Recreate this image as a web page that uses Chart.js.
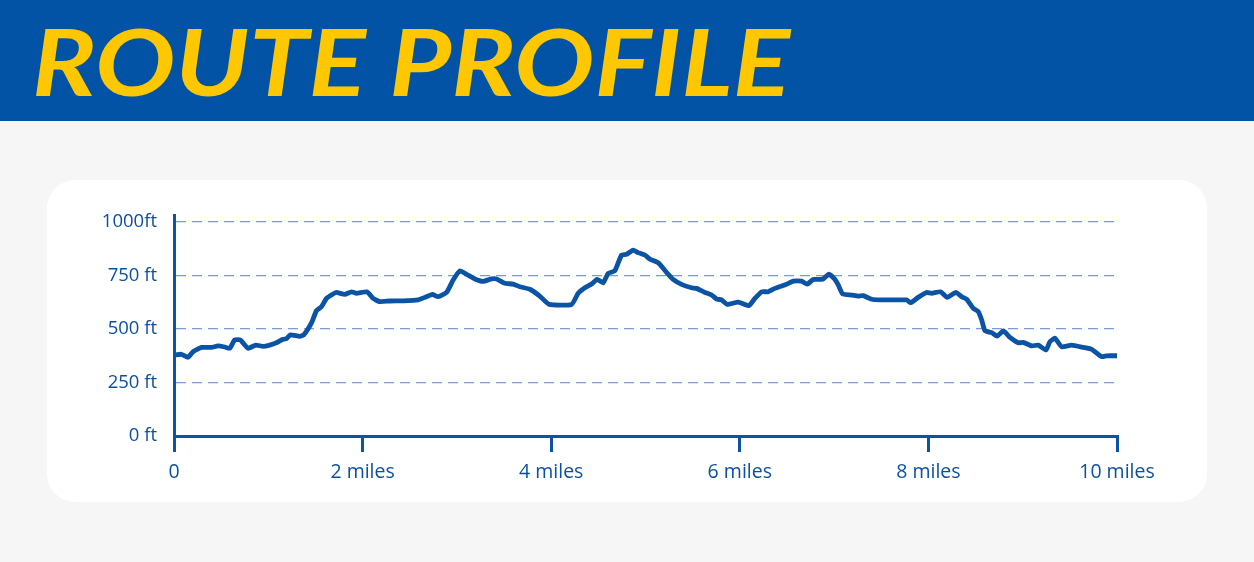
<!DOCTYPE html>
<html>
<head>
<meta charset="utf-8">
<script src="https://cdn.jsdelivr.net/npm/chart.js@4.4.1/dist/chart.umd.min.js"></script>
<style>
  html, body { margin: 0; padding: 0; }
  body { width: 1254px; height: 562px; background: #F6F6F6; position: relative; overflow: hidden; }
  #header { position: absolute; left: 0; top: 0; width: 1254px; height: 121px; background: #0253A6; }
  #header svg { position: absolute; left: 0; top: 0; }
  #card { position: absolute; left: 47px; top: 180px; width: 1160px; height: 322px; background: #FFFFFF; border-radius: 28px; }
  #chart { position: absolute; left: 0; top: 0; }
</style>
</head>
<body>
<div id="header">
  <svg width="1254" height="121" xmlns="http://www.w3.org/2000/svg">
    <text x="32" y="96" textLength="758" lengthAdjust="spacingAndGlyphs"
      font-family="Lato, 'Open Sans', sans-serif" font-weight="700" font-style="italic"
      font-size="92" fill="#FFC700">ROUTE PROFILE</text>
  </svg>
</div>
<div id="card"></div>
<canvas id="chart" width="1254" height="562"></canvas>
<script>
const miles = [
  0, 0.078, 0.149, 0.202, 0.291, 0.397, 0.467, 0.538, 0.591, 0.644, 0.704, 0.785, 0.867, 0.944, 1.015, 1.086, 1.156, 1.192, 1.235, 1.333, 1.376, 1.458, 1.511, 1.564, 1.617, 1.687,
  1.723, 1.811, 1.882, 1.935, 2.047, 2.111, 2.182, 2.288, 2.429, 2.588, 2.659, 2.741, 2.800, 2.890, 2.960, 3.031, 3.102, 3.190, 3.278, 3.367,
  3.420, 3.508, 3.596, 3.667, 3.773, 3.879, 3.978, 4.216, 4.286, 4.357, 4.428, 4.487, 4.551, 4.604, 4.675, 4.746, 4.799, 4.869, 4.922, 4.993, 5.046,
  5.134, 5.223, 5.293, 5.382, 5.488, 5.541, 5.630, 5.701, 5.754, 5.807, 5.866, 5.983, 6.096, 6.160, 6.231, 6.301, 6.372, 6.496, 6.566, 6.655, 6.715, 6.778,
  6.814, 6.884, 6.945, 7.009, 7.044, 7.090, 7.186, 7.256, 7.309, 7.398, 7.486, 7.769, 7.812, 7.892, 7.981, 8.034, 8.130, 8.200, 8.292, 8.353, 8.406,
  8.476, 8.529, 8.565, 8.600, 8.671, 8.730, 8.794, 8.865, 8.953, 9.006, 9.095, 9.165, 9.247, 9.289, 9.342, 9.413, 9.519, 9.643, 9.732, 9.838, 9.891, 10.0
];
const elevationFt = [
  378, 382, 368, 394, 414, 414, 421, 416, 410, 449, 449, 410, 425, 419, 425, 436, 452, 455, 473, 466, 473, 529, 586, 604, 643, 664,
  671, 662, 674, 667, 674, 643, 628, 631, 632, 636, 648, 662, 651, 671, 729, 772, 756, 734, 723, 734,
  734, 714, 710, 698, 686, 654, 615, 615, 667, 693, 710, 732, 716, 760, 772, 846, 849, 869, 857, 846, 827,
  810, 765, 732, 709, 693, 690, 671, 659, 640, 636, 615, 626, 609, 643, 674, 674, 690, 709, 724, 724, 710, 732,
  732, 734, 757, 732, 706, 664, 659, 654, 656, 639, 636, 636, 623, 648, 671, 667, 674, 648, 671, 651, 639,
  597, 581, 542, 492, 483, 467, 491, 461, 436, 438, 421, 425, 402, 441, 457, 417, 425, 414, 405, 371, 375, 375
];
const xTickValues = [0, 2, 4, 6, 8, 10];
const yTickValues = [0, 250, 500, 750, 1000];

const BLUE = '#0B53A4';
const LABEL = '#0B4F9F';
const GRID = 'rgba(35, 95, 190, 0.62)';

new Chart(document.getElementById('chart'), {
  type: 'line',
  data: {
    datasets: [{
      data: miles.map((m, i) => ({ x: m, y: elevationFt[i] })),
      borderColor: BLUE,
      borderWidth: 4.8,
      pointRadius: 0,
      tension: 0.15,
      borderJoinStyle: 'round',
      borderCapStyle: 'round',
      fill: false
    }]
  },
  options: {
    responsive: false,
    animation: false,
    devicePixelRatio: 1,
    layout: { padding: { left: 0, top: 215, right: 137, bottom: 0 } },
    plugins: { legend: { display: false }, tooltip: { enabled: false } },
    scales: {
      x: {
        type: 'linear',
        min: 0,
        max: 10,
        afterFit: s => { s.height = 126; },
        afterBuildTicks: s => { s.ticks = xTickValues.map(v => ({ value: v })); },
        grid: { drawOnChartArea: false, drawTicks: true, tickLength: 16, color: BLUE, lineWidth: 3 },
        border: { display: true, color: BLUE, width: 3 },
        ticks: {
          padding: 9,
          color: LABEL,
          font: { family: "'Open Sans', sans-serif", size: 19.5 },
          callback: v => v === 0 ? '0' : v + ' miles'
        }
      },
      y: {
        type: 'linear',
        min: 0,
        max: 1033,
        afterFit: s => { s.width = 174; },
        afterBuildTicks: s => { s.ticks = yTickValues.map(v => ({ value: v })); },
        grid: { drawTicks: false, color: GRID, lineWidth: 1.3 },
        border: { display: true, color: BLUE, width: 3, dash: [10, 6] },
        ticks: {
          padding: 17,
          color: LABEL,
          font: { family: "'Open Sans', sans-serif", size: 18.5 },
          callback: v => v === 1000 ? '1000ft' : v + ' ft'
        }
      }
    }
  }
});
</script>
</body>
</html>
